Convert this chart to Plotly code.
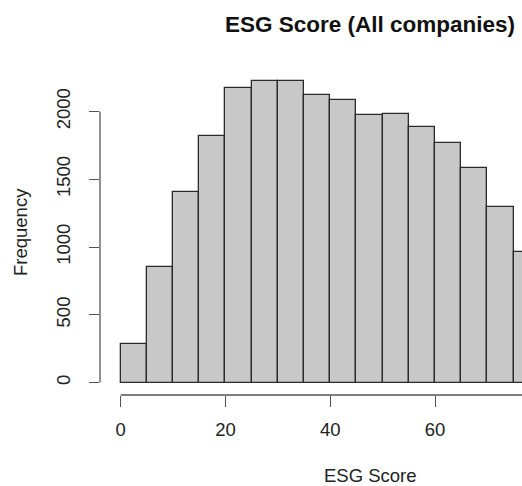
import plotly.graph_objects as go

# Data (bin width 5)
bin_left = [0, 5, 10, 15, 20, 25, 30, 35, 40, 45, 50, 55, 60, 65, 70, 75]
counts = [282, 850, 1408, 1819, 2176, 2227, 2225, 2122, 2085, 1972, 1984, 1888, 1765, 1585, 1295, 965]
bin_width = 5
x_ticks = [0, 20, 40, 60, 80]
y_ticks = [0, 500, 1000, 1500, 2000]

title_text = "ESG Score (All companies)"
x_title = "ESG Score"
y_title = "Frequency"

FONT = "Liberation Sans, Arial, Helvetica, sans-serif"
W, H = 522, 486
L, R, T, B = 100, 0, 58, 91
pw, ph = W - L - R, H - T - B

def px_to_paper_x(px):
    return (px - L) / pw

def px_to_paper_y(py):
    return (H - B - py) / ph

fig = go.Figure()
fig.add_trace(go.Bar(
    x=bin_left, y=counts, width=bin_width, offset=0,
    marker=dict(color="#c8c8c8", line=dict(color="#2a2a2a", width=1.3)),
    hoverinfo="skip",
))

fig.update_layout(
    width=W, height=H,
    margin=dict(l=L, r=R, t=T, b=B),
    paper_bgcolor="white", plot_bgcolor="white",
    showlegend=False,
    bargap=0,
    font=dict(family=FONT, size=18.5, color="#222222"),
    xaxis=dict(
        range=[-3.95, 76.6], tickvals=x_ticks, ticks="outside", ticklen=11,
        tickcolor="#555555", tickwidth=1.3, showline=False, showgrid=False,
        zeroline=False, ticklabelstandoff=7,
        tickfont=dict(family=FONT, size=18.5, color="#222222"),
    ),
    yaxis=dict(
        range=[-92, 2395], tickvals=y_ticks, ticks="outside", ticklen=10,
        tickcolor="#555555", tickwidth=1.3, showline=False, showgrid=False,
        zeroline=False, tickangle=-90, ticklabelstandoff=12,
        tickfont=dict(family=FONT, size=18.5, color="#222222"),
    ),
    shapes=[
        dict(type="line", xref="x", yref="paper", x0=x_ticks[0], x1=100, y0=0, y1=0,
             line=dict(color="#555555", width=1.3)),
        dict(type="line", xref="paper", yref="y", x0=0, x1=0, y0=y_ticks[0], y1=y_ticks[-1],
             line=dict(color="#555555", width=1.3)),
    ],
    annotations=[
        dict(text="<b>" + title_text + "</b>", xref="paper", yref="paper",
             x=px_to_paper_x(370), y=px_to_paper_y(24), xanchor="center", yanchor="middle",
             showarrow=False, font=dict(family=FONT, size=22.5, color="#111111")),
        dict(text=x_title, xref="paper", yref="paper",
             x=px_to_paper_x(370), y=px_to_paper_y(475), xanchor="center", yanchor="middle",
             showarrow=False, font=dict(family=FONT, size=18.5, color="#222222")),
        dict(text=y_title, xref="paper", yref="paper", textangle=-90,
             x=px_to_paper_x(20), y=px_to_paper_y(232), xanchor="center", yanchor="middle",
             showarrow=False, font=dict(family=FONT, size=18.5, color="#222222")),
    ],
)

fig.write_html(
    "out.html",
    config={"displayModeBar": False},
    post_script="document.body.style.margin='0px';document.body.style.padding='0px';",
)
